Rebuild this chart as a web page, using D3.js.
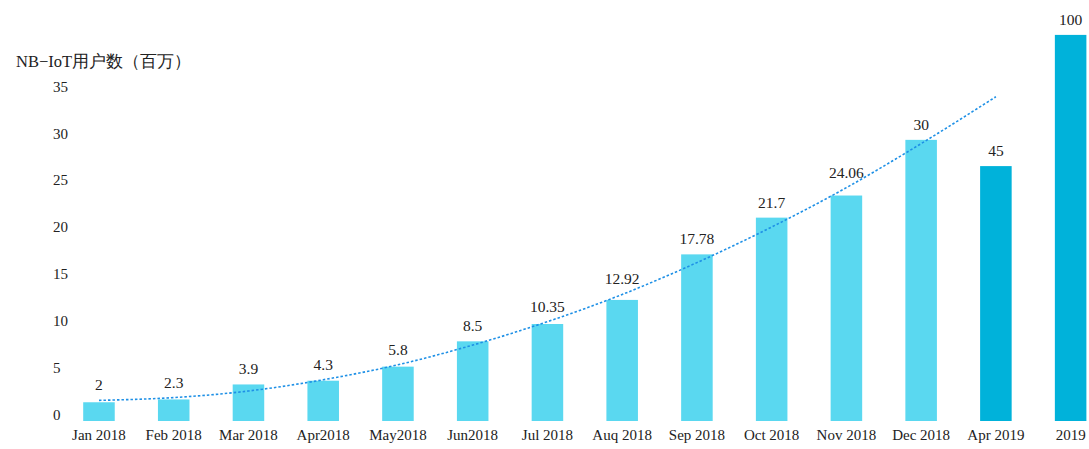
<!DOCTYPE html>
<html>
<head>
<meta charset="utf-8">
<script src="https://cdn.jsdelivr.net/npm/d3@7"></script>
<style>
  body { margin: 0; background: #fff; }
  text { font-family: "Liberation Serif", "DejaVu Serif", serif; fill: #222; }
</style>
</head>
<body>
<div id="bar-chart"></div>
<script>
// categories and values
let months = ["Jan 2018", "Feb 2018", "Mar 2018", "Apr2018", "May2018", "Jun2018", "Jul 2018",
    "Auq 2018", "Sep 2018", "Oct 2018", "Nov 2018", "Dec 2018", "Apr 2019", "2019"]
let users = [2, 2.3, 3.9, 4.3, 5.8, 8.5, 10.35, 12.92, 17.78, 21.7, 24.06, 30, 45, 100]
// heights the bars are actually drawn at (last two are cut short in the original)
let drawnUsers = [2, 2.3, 3.9, 4.3, 5.8, 8.5, 10.35, 12.92, 17.78, 21.7, 24.06, 30, 27.2, 41.2]
let forecast = [false, false, false, false, false, false, false, false, false, false, false, false, true, true]
// dotted trend line, read at each category up to Apr 2019
let trend = [2.2, 2.5, 3.2, 4.4, 6.0, 8.1, 10.6, 13.5, 16.9, 20.7, 24.9, 29.6, 34.6]
let yTicks = [0, 5, 10, 15, 20, 25, 30, 35]

let width = 1089, height = 449

let svg = d3.select("#bar-chart")
    .append("svg")
    .attr("width", width)
    .attr("height", height)

let x = d3.scaleBand()
    .domain(months)
    .range([61.6, 1108])
    .paddingInner(0.578)
    .paddingOuter(0.289)

let y = d3.scaleLinear()
    .domain([0, 35])
    .range([421, 93])

// y axis: labels only, left aligned, no line
let yAxis = svg.append("g")
    .attr("transform", "translate(53,0)")
    .call(d3.axisLeft(y).tickValues(yTicks).tickSize(0).tickPadding(0))
yAxis.select(".domain").remove()
yAxis.selectAll("text")
    .attr("text-anchor", "start")
    .attr("dy", "-0.12em")
    .style("font-size", "15px")
    .style("font-family", "'Liberation Serif', serif")
    .attr("fill", "#222")

// x axis
let xAxis = svg.append("g")
    .attr("transform", "translate(0,421)")
    .call(d3.axisBottom(x).tickSize(0).tickPadding(8))
xAxis.select(".domain").remove()
xAxis.selectAll("text")
    .style("font-size", "15px")
    .style("font-family", "'Liberation Serif', serif")
    .attr("fill", "#222")

svg.append("text")
    .attr("x", 16)
    .attr("y", 67)
    .style("font-size", "16.5px")
    .text("NB−IoT用户数（百万）")

// bars
svg.append("g")
    .selectAll("rect")
    .data(months)
    .join("rect")
    .attr("x", d => x(d))
    .attr("width", x.bandwidth())
    .attr("y", (d, i) => y(drawnUsers[i]))
    .attr("height", (d, i) => y(0) - y(drawnUsers[i]))
    .attr("fill", (d, i) => forecast[i] ? "#00b2da" : "#5ad8f0")

// trend line
svg.append("path")
    .datum(trend)
    .attr("fill", "none")
    .attr("stroke", "#1e90e6")
    .attr("stroke-width", 1.6)
    .attr("stroke-dasharray", "2.5,2")
    .attr("d", d3.line()
        .x((d, i) => x(months[i]) + x.bandwidth() / 2)
        .y(d => y(d))
        .curve(d3.curveMonotoneX)
    )

// value labels, sitting above the bar or the trend line, whichever is higher
svg.append("g")
    .selectAll("text")
    .data(months)
    .join("text")
    .attr("x", d => x(d) + x.bandwidth() / 2)
    .attr("y", (d, i) => {
        let top = y(drawnUsers[i])
        if (i < 12) top = Math.min(top, y(trend[i]))
        return top - 10
    })
    .attr("text-anchor", "middle")
    .style("font-size", "15.5px")
    .text((d, i) => users[i])
</script>
</body>
</html>
